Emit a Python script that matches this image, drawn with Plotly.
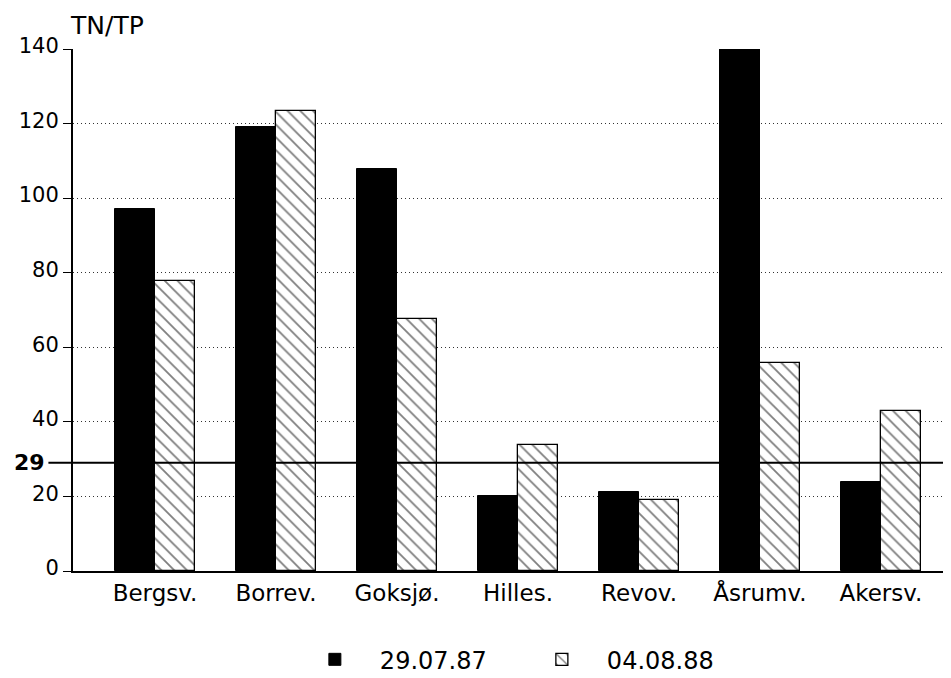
import plotly.graph_objects as go

categories = ["Bergsv.", "Borrev.", "Goksjø.", "Hilles.", "Revov.", "Åsrumv.", "Akersv."]
series_1987 = [97.0, 119.2, 107.8, 20.0, 21.2, 140.0, 24.0]
series_1988 = [77.8, 123.5, 67.6, 33.9, 19.0, 55.8, 42.9]
series_names = ["29.07.87", "04.08.88"]
y_ticks = [0, 20, 40, 60, 80, 100, 120, 140]
threshold = 29

FONT = "DejaVu Sans, Liberation Sans, sans-serif"
x_pos = list(range(len(categories)))

fig = go.Figure()
fig.add_trace(go.Bar(
    x=x_pos, y=series_1987, name=series_names[0],
    width=0.33, offset=-0.33,
    marker=dict(color="black", line=dict(color="black", width=1)),
))
fig.add_trace(go.Bar(
    x=x_pos, y=series_1988, name=series_names[1],
    width=0.33, offset=0,
    marker=dict(color="white", line=dict(color="black", width=1.3),
                pattern=dict(shape="\\", fgcolor="black", bgcolor="white",
                             size=9, solidity=0.2)),
))

# threshold line
fig.add_shape(type="line", xref="paper", yref="y",
              x0=-0.028, x1=1, y0=threshold, y1=threshold,
              line=dict(color="black", width=2), layer="above")
fig.add_annotation(xref="paper", yref="y", x=-0.030, y=threshold,
                   text="<b>%d</b>" % threshold, showarrow=False,
                   xanchor="right", yanchor="middle",
                   font=dict(family=FONT, size=22, color="black"))
fig.add_annotation(xref="paper", yref="paper", x=-0.006, y=1.045,
                   text="TN/TP", showarrow=False,
                   xanchor="left", yanchor="middle",
                   font=dict(family=FONT, size=25, color="black"))

fig.update_layout(
    width=943, height=678,
    margin=dict(l=65, r=0, t=41, b=115),
    paper_bgcolor="white", plot_bgcolor="white",
    font=dict(family=FONT, size=21, color="black"),
    bargap=0, barmode="overlay",
    showlegend=True,
    legend=dict(orientation="h", x=0.247, xanchor="left",
                y=-0.170, yanchor="middle",
                font=dict(family=FONT, size=24, color="black"),
                itemwidth=80, entrywidth=132),
)
fig.update_xaxes(
    range=[-0.678, 6.579], automargin=False,
    tickvals=x_pos, ticktext=categories,
    showgrid=False, zeroline=False,
    showline=True, linecolor="black", linewidth=2,
    ticks="", tickfont=dict(family=FONT, size=23, color="black"),
)
fig.update_yaxes(
    range=[0, 140], tickvals=y_ticks, automargin=False,
    ticktext=[str(v) for v in y_ticks],
    showgrid=True, gridcolor="#333333", gridwidth=1, griddash="1px,3px",
    zeroline=False,
    showline=True, linecolor="black", linewidth=2,
    ticks="outside", ticklen=8, tickcolor="black", tickwidth=1,
    ticklabelshift=-3,
    tickfont=dict(family=FONT, size=21, color="black"),
)

fig.write_html("out.html")
